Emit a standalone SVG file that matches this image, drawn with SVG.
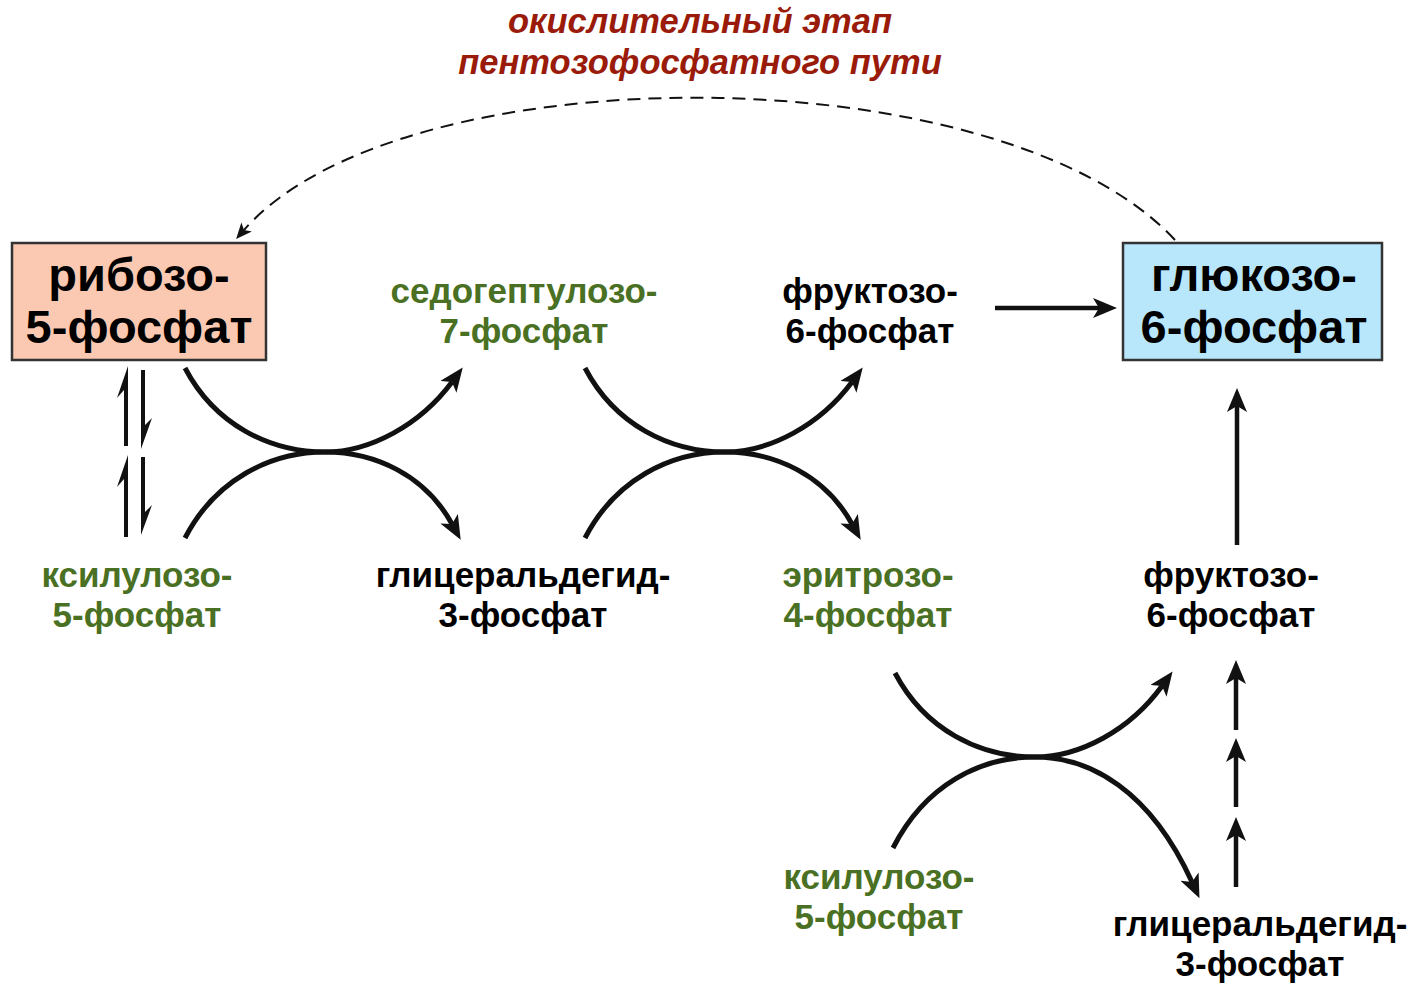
<svg xmlns="http://www.w3.org/2000/svg" width="1410" height="983" viewBox="0 0 1410 983">
<style>
text{font-family:"Liberation Sans",Arial,sans-serif;font-weight:bold;text-anchor:middle}
.lbl{font-size:35px}
.g{fill:#4a7023}
.k{fill:#000}
.box{font-size:47px;fill:#000}
.title{font-size:34.5px;font-style:italic;fill:#9a1b0a}
.bx{stroke:#333;stroke-width:2.5}
.c{fill:none;stroke:#111;stroke-width:5;marker-end:url(#ah)}
.s{fill:none;stroke:#111;stroke-width:4.5;marker-end:url(#ah)}
</style>
<defs>
<marker id="ah" viewBox="0 0 24 20" refX="6" refY="10" markerWidth="24" markerHeight="20" markerUnits="userSpaceOnUse" orient="auto">
<path d="M0,0 L24,10 L0,20 L6,10 Z" fill="#111"/>
</marker>
<marker id="ahd" viewBox="0 0 16 14" refX="4" refY="7" markerWidth="16" markerHeight="14" markerUnits="userSpaceOnUse" orient="auto">
<path d="M0,0 L16,7 L0,14 L4,7 Z" fill="#111"/>
</marker>
</defs>

<g id="title">
<text class="title" x="700" y="33">окислительный этап</text>
<text class="title" x="700" y="74">пентозофосфатного пути</text>
</g>

<g id="ribose5p">
<rect class="bx" x="12" y="243" width="254" height="117" fill="#fbc9b2"/>
<text class="box" x="139" y="291">рибозо-</text>
<text class="box" x="139" y="343">5-фосфат</text>
</g>

<g id="glucose6p">
<rect class="bx" x="1123" y="243" width="259" height="117" fill="#b8e6fb"/>
<text class="box" x="1254" y="291">глюкозо-</text>
<text class="box" x="1254" y="343">6-фосфат</text>
</g>

<g id="sedoheptulose7p">
<text class="lbl g" x="524" y="303">седогептулозо-</text>
<text class="lbl g" x="524" y="343">7-фосфат</text>
</g>
<g id="fructose6p-top">
<text class="lbl k" x="870" y="303">фруктозо-</text>
<text class="lbl k" x="870" y="343">6-фосфат</text>
</g>
<g id="xylulose5p-left">
<text class="lbl g" x="137" y="587">ксилулозо-</text>
<text class="lbl g" x="137" y="627">5-фосфат</text>
</g>
<g id="gap-mid">
<text class="lbl k" x="523" y="587">глицеральдегид-</text>
<text class="lbl k" x="523" y="627">3-фосфат</text>
</g>
<g id="erythrose4p">
<text class="lbl g" x="868" y="587">эритрозо-</text>
<text class="lbl g" x="868" y="627">4-фосфат</text>
</g>
<g id="fructose6p-right">
<text class="lbl k" x="1231" y="587">фруктозо-</text>
<text class="lbl k" x="1231" y="627">6-фосфат</text>
</g>
<g id="xylulose5p-bottom">
<text class="lbl g" x="879" y="889">ксилулозо-</text>
<text class="lbl g" x="879" y="929">5-фосфат</text>
</g>
<g id="gap-bottom">
<text class="lbl k" x="1260" y="936">глицеральдегид-</text>
<text class="lbl k" x="1260" y="976">3-фосфат</text>
</g>

<g id="connectors">
<path d="M1175,240 C1000,52 400,52 244,230" fill="none" stroke="#111" stroke-width="2" stroke-dasharray="13,8" marker-end="url(#ahd)"/>

<path class="c" d="M185,368 C215,425 270,452 325,452 C370,452 420,425 452,382"/>
<path class="c" d="M185,538 C215,480 270,452 325,452 C375,452 425,475 452,524"/>

<path class="c" d="M585,368 C615,425 670,452 725,452 C770,452 820,425 852,382"/>
<path class="c" d="M585,538 C615,480 670,452 725,452 C775,452 825,475 852,524"/>

<path class="c" d="M895,673 C925,730 980,757 1035,757 C1080,757 1130,730 1162,686"/>
<path class="c" d="M893,848 C925,785 980,757 1035,757 C1090,757 1150,790 1192,882"/>

<path class="s" d="M995,308 L1099,308"/>
<path class="s" d="M1237,545 L1237,406"/>
<path class="s" d="M1236,730 L1236,678"/>
<path class="s" d="M1236,807 L1236,756"/>
<path class="s" d="M1236,887 L1236,835"/>

<polygon fill="#111" points="128,366 117,398 124,390 124,446 128,446"/>
<polygon fill="#111" points="141,370 145,370 145,425 152,418 141,449"/>
<polygon fill="#111" points="128,455 117,487 124,479 124,537 128,537"/>
<polygon fill="#111" points="141,457 145,457 145,512 152,505 141,535"/>
</g>
</svg>
